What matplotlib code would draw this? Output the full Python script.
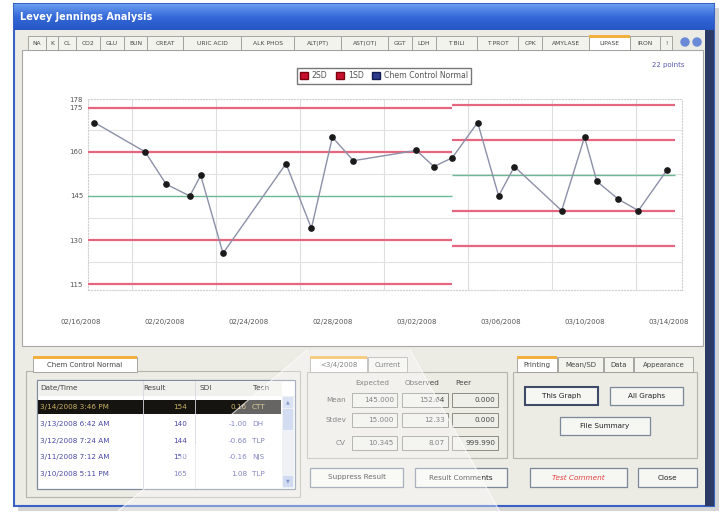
import pandas as pd
import numpy as np
import matplotlib
matplotlib.use("Agg")
import matplotlib.pyplot as plt
import matplotlib.dates as mdates
from matplotlib.patches import Rectangle, Polygon, Patch
from matplotlib.colors import LinearSegmentedColormap

plt.rcParams['font.family'] = 'DejaVu Sans'

# control runs (date/time and result)
run_times = ["2008-02-16 09:00", "2008-02-18 19:00", "2008-02-19 19:00", "2008-02-20 22:00",
             "2008-02-21 10:30", "2008-02-22 12:00", "2008-02-25 12:00", "2008-02-26 17:00",
             "2008-02-27 17:00", "2008-02-28 17:00", "2008-03-02 17:00", "2008-03-03 13:00",
             "2008-03-04 10:00", "2008-03-05 15:00", "2008-03-06 15:00", "2008-03-07 09:00",
             "2008-03-09 15:00", "2008-03-10 17:11", "2008-03-11 07:12", "2008-03-12 07:24",
             "2008-03-13 06:42", "2008-03-14 15:46"]
run_values = [170, 160, 149, 145, 152, 125.5, 156, 134, 165, 157, 160.5, 155,
              158, 170, 145, 155, 140, 165, 150, 144, 140, 154]

# mean / SD segments
seg_start = ["2008-02-16 00:00", "2008-03-04 09:30"]
seg_end = ["2008-03-04 09:30", "2008-03-15 00:00"]
seg_mean = [145, 152]
seg_sd = [15, 12]

y_ticks = [115, 130, 145, 160, 175, 178]
x_labels = ["02/16/2008", "02/20/2008", "02/24/2008", "02/28/2008",
            "03/02/2008", "03/06/2008", "03/10/2008", "03/14/2008"]
legend_labels = ["2SD", "1SD", "Chem Control Normal"]

tabs = ["NA", "K", "CL", "CO2", "GLU", "BUN", "CREAT", "URIC ACID", "ALK PHOS", "ALT(PT)",
        "AST(OT)", "GGT", "LDH", "T BILI", "T PROT", "CPK", "AMYLASE", "LIPASE", "IRON", "!"]

table_dates = ["3/14/2008 3:46 PM", "3/13/2008 6:42 AM", "3/12/2008 7:24 AM",
               "3/11/2008 7:12 AM", "3/10/2008 5:11 PM"]
table_results = [154, 140, 144, 150, 165]
table_sdi = ["0.16", "-1.00", "-0.66", "-0.16", "1.08"]
table_tech = ["CTT", "DH", "TLP", "NJS", "TLP"]

stat_rows = ["Mean", "Stdev", "CV"]
stat_cols = ["Expected", "Observed", "Peer"]
expected = ["145.000", "15.000", "10.345"]
observed = ["152.64", "12.33", "8.07"]
peer = ["0.000", "0.000", "999.990"]

W, H = 721, 512
fig = plt.figure(figsize=(W / 100, H / 100), dpi=100)
fig.patch.set_facecolor("white")
bg = fig.add_axes([0, 0, 1, 1])
bg.axis("off")


def box(x0, y0, x1, y1, fc, ec="none", lw=0.8, z=1, **kw):
    bg.add_patch(Rectangle((x0, y0), x1 - x0, y1 - y0, facecolor=fc, edgecolor=ec,
                           linewidth=lw, zorder=z, **kw))


def txt(x, y, s, size=5, color="#333333", ha="left", z=5, **kw):
    bg.text(x, y, s, fontsize=size, color=color, ha=ha, va="center", zorder=z, **kw)


def button(x0, y0, x1, y1, label, color="#222222", style="normal", dark=False):
    box(x0, y0, x1, y1, "#f6f6f2", "#3e4c6a" if dark else "#7c889c", lw=1.5 if dark else 0.9, z=3)
    txt((x0 + x1) / 2, (y0 + y1) / 2, label, size=5.2, color=color, ha="center", style=style)


def tab(x0, x1, y0, y1, label, selected=False, size=4.6):
    box(x0, y0, x1, y1, "#ffffff" if selected else "#f3f3ee", "#9a9a96", lw=0.6, z=3)
    if selected:
        box(x0, y0 - 1, x1, y0 + 1.5, "#f2b040", z=4)
    txt((x0 + x1) / 2, (y0 + y1) / 2 + 0.5, label, size=size, color="#444444", ha="center")


# window
box(18, 8, 719, 511, "#d4d4d4", z=0)
box(14, 4, 714, 506, "#ecebe4", "#3a62c4", lw=1.5, z=0.5)
grad = np.linspace(0, 1, 40).reshape(-1, 1) * np.ones((1, 10))
cmap = LinearSegmentedColormap.from_list("xp", ["#6a9cf0", "#3468d8", "#2656c4"])
bg.imshow(grad, extent=[14, 714, 30, 4], aspect="auto", cmap=cmap, zorder=1)
txt(20, 17, "Levey Jennings Analysis", size=7, color="white", weight="bold")
box(705, 30, 714, 506, "#2c3a66", z=2)

# test tabs
char_w = [5 + 4.6 * len(t) for t in tabs]
scale = (672 - 28) / sum(char_w)
x = 28
for t, w in zip(tabs, char_w):
    tab(x, x + w * scale, 36, 50, t, selected=(t == "LIPASE"), size=4.3)
    x += w * scale
for cx in (685, 697):
    bg.add_patch(plt.Circle((cx, 42), 4, color="#6a8ad8", zorder=4))

# chart panel
box(22, 50, 703, 346, "white", "#a8a8a8", lw=0.8, z=2)
txt(668, 65, "22 points", size=5, color="#5a5aa8", ha="center")

# left panel: runs table
box(26, 371, 300, 497, "none", "#b4b4ac", lw=0.8, z=2)
tab(33, 137, 357, 372, "Chem Control Normal", selected=True, size=5)
box(37, 380, 295, 489, "white", "#7f8a9e", lw=0.9, z=2)
box(38, 381, 282, 396, "#f0f0ec", z=3)
for hx, h in zip([40, 143, 200, 253], ["Date/Time", "Result", "SDI", "Tech"]):
    txt(hx, 388, h, size=5.2, color="#444444")
box(38, 400, 281, 414, "#161410", z=3)
row_y = [407, 424, 441, 457, 474]
for i, (d, r, s, t) in enumerate(zip(table_dates, table_results, table_sdi, table_tech)):
    c = "#c8b060" if i == 0 else "#4848a8"
    txt(40, row_y[i], d, size=5.2, color=c)
    txt(187, row_y[i], str(r), size=5.2, color=c, ha="right")
    txt(247, row_y[i], s, size=5.2, color=c, ha="right")
    txt(252, row_y[i], t, size=5.2, color=c)
for sx in (143, 195):
    bg.plot([sx, sx], [381, 488], color="#d8d8e4", lw=0.6, zorder=3.5)
box(282, 396, 294, 488, "#e8eaf0", z=3)
box(283, 397, 293, 408, "#c8d4ee", z=3)
box(283, 409, 293, 430, "#bccbea", z=3)
box(283, 476, 293, 487, "#b8c8ea", z=3)
txt(288, 402, "▲", size=3.5, color="#4060b0", ha="center")
txt(288, 481, "▼", size=3.5, color="#4060b0", ha="center")

# middle panel: statistics
box(307, 372, 507, 458, "none", "#b4b4ac", lw=0.8, z=2)
tab(310, 367, 357, 372, "<3/4/2008", selected=True, size=5)
tab(368, 407, 357, 372, "Current", size=5)
col_x = [352, 402, 452]
col_w = [45, 46, 46]
for cx, c in zip(col_x, stat_cols):
    txt(cx + 3, 383, c, size=5.2, color="#444444")
row_sy = [400, 420, 443]
for j, (lab, vals) in enumerate(zip(stat_rows, zip(expected, observed, peer))):
    txt(346, row_sy[j], lab, size=5.2, color="#444444", ha="right")
    for cx, w, v in zip(col_x, col_w, vals):
        box(cx, row_sy[j] - 7, cx + w, row_sy[j] + 7, "#efefea", "#8c8c88", lw=0.7, z=3)
        txt(cx + w - 3, row_sy[j], v, size=5.2, color="#444444", ha="right")

# right panel: printing
box(513, 372, 697, 458, "none", "#b4b4ac", lw=0.8, z=2)
tab(517, 557, 357, 372, "Printing", selected=True, size=5)
tab(558, 603, 357, 372, "Mean/SD", size=5)
tab(604, 633, 357, 372, "Data", size=5)
tab(634, 693, 357, 372, "Appearance", size=5)
button(525, 387, 598, 405, "This Graph", dark=True)
button(610, 387, 683, 405, "All Graphs")
button(560, 417, 650, 435, "File Summary")

# bottom buttons
button(310, 468, 403, 487, "Suppress Result")
button(415, 468, 507, 487, "Result Comments")
button(530, 468, 627, 487, "Test Comment", color="#e04040", style="italic")
button(638, 468, 697, 487, "Close")

# light beam reflection
bg.add_patch(Polygon([(117, 512), (307, 350), (410, 350), (500, 512)], closed=True,
                     facecolor="white", alpha=0.35, edgecolor="none", zorder=8))
bg.plot([117, 307], [512, 350], color="white", lw=0.8, alpha=0.7, zorder=8)
bg.plot([410, 500], [350, 512], color="white", lw=0.8, alpha=0.7, zorder=8)

bg.set_xlim(0, W)
bg.set_ylim(H, 0)

# Levey-Jennings chart
ax = fig.add_axes([88 / W, 1 - 290 / H, 594 / W, 191 / H])
ax.set_facecolor("white")
times = pd.to_datetime(run_times)

for s, e, m, sd in zip(seg_start, seg_end, seg_mean, seg_sd):
    xs = mdates.date2num(pd.Timestamp(s))
    xe = mdates.date2num(pd.Timestamp(e))
    for k in (-2, -1, 1, 2):
        ax.hlines(m + k * sd, xs, xe, color="#e4667f", lw=1.6, zorder=3)
    ax.hlines(m, xs, xe, color="#6cb894", lw=1.0, zorder=3)

grid_x = mdates.date2num(pd.date_range("2008-02-18 04:00", periods=7, freq="4D"))
ax.vlines(grid_x, 113, 178, color="#dedede", lw=0.8, zorder=1)
ax.hlines([122.5, 137.5, 152.5, 167.5], mdates.date2num(pd.Timestamp("2008-02-16 01:40")),
          mdates.date2num(pd.Timestamp("2008-03-15 08:34")), color="#e2e2e2", lw=0.8, zorder=1)

ax.plot(mdates.date2num(times), run_values, color="#8c90a8", lw=1.0, marker="o", ms=3.8,
        mfc="#1a1a1a", mec="#1a1a1a", zorder=5)

ax.set_xlim(mdates.date2num(pd.Timestamp("2008-02-16 01:40")),
            mdates.date2num(pd.Timestamp("2008-03-15 08:34")))
ax.set_ylim(113, 178)
ax.set_xticks([])
ax.set_yticks(y_ticks)
ax.tick_params(axis="y", length=0, pad=3.6, labelsize=5, labelcolor="#555555")
for sp in ax.spines.values():
    sp.set_color("#d0d0d0")
    sp.set_linestyle(":")
    sp.set_linewidth(0.8)

label_pos = mdates.date2num(pd.date_range("2008-02-15 17:45", periods=8, freq="4D"))
for p, lab in zip(label_pos, x_labels):
    ax.text(p, -0.168, lab, transform=ax.get_xaxis_transform(), ha="center", va="center",
            fontsize=5, color="#555555", clip_on=False)

handles = [Patch(facecolor="#c8102e", edgecolor="#7a0010"),
           Patch(facecolor="#c8102e", edgecolor="#7a0010"),
           Patch(facecolor="#2e3a8c", edgecolor="#101a50")]
ax.legend(handles, legend_labels, ncol=3, loc="center", bbox_to_anchor=(384 / W, 1 - 76 / H),
          bbox_transform=fig.transFigure, fontsize=5.6, frameon=True, fancybox=False,
          edgecolor="#555555", handlelength=1.0, handleheight=1.0, columnspacing=1.1,
          handletextpad=0.5, borderpad=0.4, labelcolor="#555555")

plt.savefig("out.png", dpi=100)
